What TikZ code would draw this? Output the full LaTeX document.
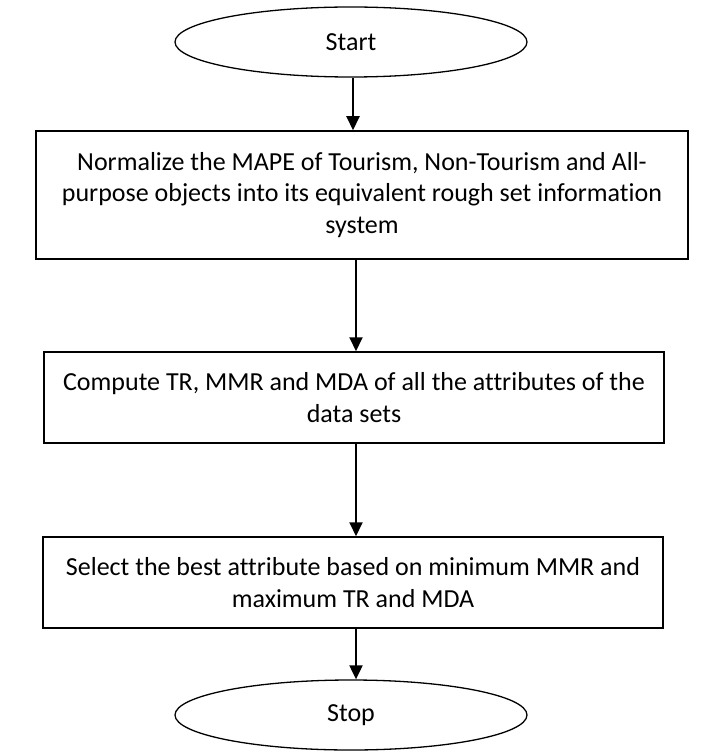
\documentclass[tikz,border=0pt]{standalone}
\usepackage{fontspec}
\setmainfont{Carlito}[Ligatures={NoCommon}]
\usetikzlibrary{shapes.geometric,arrows.meta}
\begin{document}
\begin{tikzpicture}[x=1pt,y=-1pt,
  every node/.style={font=\fontsize{26}{31.7}\selectfont},
  term/.style={ellipse, draw, line width=1.3pt, minimum width=352pt, minimum height=70pt, inner sep=0pt},
  proc/.style={rectangle, draw, line width=1.5pt, align=center, inner sep=0pt},
  flow/.style={line width=2pt, -{Triangle[width=13pt,length=14pt]}}]
\useasboundingbox (0,0) rectangle (701,751);
\node[term] (start) at (351,42) {Start};
\node[proc, minimum width=652pt, minimum height=128pt] (box1) at (362,195)
  {Normalize the MAPE of Tourism, Non-Tourism and All-\\purpose objects into its equivalent rough set information\\system};
\node[proc, minimum width=620pt, minimum height=91pt] (box2) at (354,397.5)
  {Compute TR, MMR and MDA of all the attributes of the\\data sets};
\node[proc, minimum width=620pt, minimum height=91pt] (box3) at (353,582.5)
  {Select the best attribute based on minimum MMR and\\maximum TR and MDA};
\node[term] (stop) at (351,715) {Stop};
\coordinate (a1) at (353,0);
\coordinate (ax) at (356,0);
\draw[flow] (start.south -| a1) -- (box1.north -| a1);
\draw[flow] (box1.south -| ax) -- (box2.north -| ax);
\draw[flow] (box2.south -| ax) -- (box3.north -| ax);
\draw[flow] (box3.south -| ax) -- (stop.north -| ax);
\end{tikzpicture}
\end{document}
